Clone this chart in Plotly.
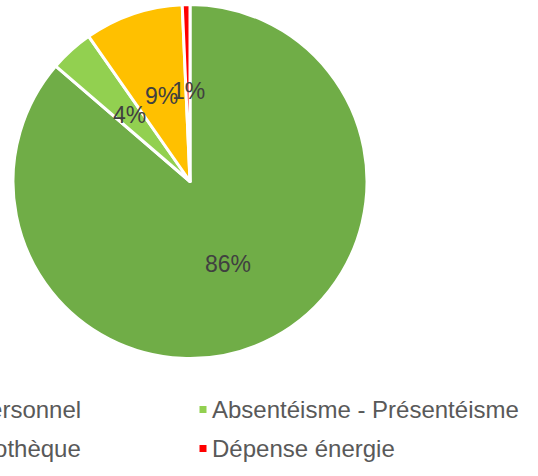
import math
import plotly.graph_objects as go

# Cost breakdown (share of total, %)
categories = ["Coût du personnel", "Absentéisme - Présentéisme", "Loyer - Hypothèque", "Dépense énergie"]
shares = [86.3, 4.0, 9.0, 0.7]
slice_colors = ["#70AD47", "#92D050", "#FFC000", "#FF0000"]

W, H = 538, 476
FONT = "Liberation Sans, Arial, sans-serif"

# pie geometry in pixels
CX, CY, R = 190, 181.5, 177

fig = go.Figure(
    go.Pie(
        labels=categories,
        values=shares,
        sort=False,
        direction="clockwise",
        rotation=0,
        marker=dict(colors=slice_colors, line=dict(color="white", width=3)),
        textinfo="none",
        hoverinfo="label+percent",
        showlegend=False,
        domain=dict(x=[(CX - R) / W, (CX + R) / W], y=[1 - (CY + R) / H, 1 - (CY - R) / H]),
    )
)

annotations = []
shapes = []

# percentage labels at mid-radius of each slice
total = sum(shares)
cum = 0.0
for v in shares:
    mid = math.radians(360.0 * (cum + v / 2) / total)
    cum += v
    r = 0.51 * R
    px = CX + r * math.sin(mid)
    py = CY - r * math.cos(mid)
    annotations.append(dict(
        x=px / W, y=1 - py / H, xref="paper", yref="paper",
        text=f"{round(100 * v / total)}%", showarrow=False,
        xanchor="center", yanchor="middle",
        font=dict(family=FONT, size=23, color="#404040"),
    ))

# two-column legend below the pie
row_y = [409.5, 448.5]
col2_marker_x, col2_text_x = 203, 212
col1_text_right = 82.5
col1_marker_x = -125
for i, (name, col) in enumerate(zip(categories, slice_colors)):
    row, column = divmod(i, 2)
    y = row_y[row]
    if column == 0:
        mx = col1_marker_x
        annotations.append(dict(
            x=col1_text_right / W, y=1 - y / H, xref="paper", yref="paper",
            text=name, showarrow=False, xanchor="right", yanchor="middle",
            font=dict(family=FONT, size=24, color="#595959"),
        ))
    else:
        mx = col2_marker_x
        annotations.append(dict(
            x=(col2_text_x - 2) / W, y=1 - y / H, xref="paper", yref="paper",
            text=name, showarrow=False, xanchor="left", yanchor="middle",
            font=dict(family=FONT, size=24, color="#595959"),
        ))
    shapes.append(dict(
        type="rect", xref="paper", yref="paper",
        x0=(mx - 3.5) / W, x1=(mx + 3.5) / W,
        y0=1 - (y + 3.5) / H, y1=1 - (y - 3.5) / H,
        fillcolor=col, line=dict(width=0),
    ))

fig.update_layout(
    width=W, height=H,
    margin=dict(l=0, r=0, t=0, b=0),
    paper_bgcolor="white",
    plot_bgcolor="white",
    annotations=annotations,
    shapes=shapes,
    font=dict(family=FONT),
)

fig.write_html("out.html")
